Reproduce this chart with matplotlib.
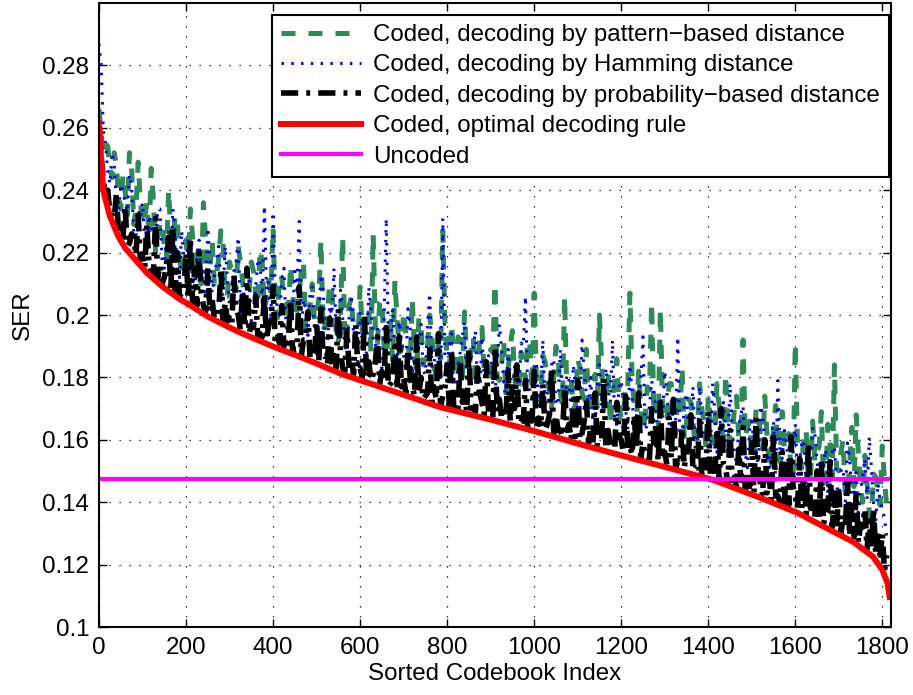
import numpy as np
import matplotlib
matplotlib.use("Agg")
import matplotlib.pyplot as plt

plt.rcParams['font.family'] = ['Liberation Sans', 'DejaVu Sans']

# sorted codebook index of the noisy curves (every 5th codebook)
idx = np.arange(0, 1815, 5)

# SER x 1000
# "_a" lists: index 0, 10, 20, ...   "_b" lists: index 5, 15, 25, ...
pattern_ser_a = [266, 252, 254, 244, 248, 234, 240, 252, 229, 249,
                 229, 236, 247, 220, 229, 222, 240, 223, 230, 213,
                 224, 234, 214, 223, 236, 210, 224, 213, 227, 206,
                 217, 209, 222, 211, 202, 217, 207, 221, 202, 211,
                 228, 199, 212, 204, 216, 199, 207, 217, 196, 210,
                 200, 224, 197, 210, 200, 191, 225, 197, 206, 191,
                 209, 198, 202, 226, 191, 205, 187, 198, 211, 188,
                 201, 191, 205, 182, 197, 187, 200, 183, 192, 227,
                 186, 197, 180, 192, 201, 182, 193, 177, 196, 185,
                 189, 210, 179, 192, 182, 195, 175, 188, 179, 191,
                 207, 175, 187, 180, 170, 190, 175, 206, 180, 170,
                 186, 175, 189, 168, 181, 200, 170, 182, 174, 186,
                 167, 177, 207, 171, 182, 163, 177, 204, 171, 202,
                 166, 178, 162, 175, 183, 165, 172, 158, 178, 166,
                 174, 159, 178, 166, 181, 159, 170, 161, 192, 164,
                 155, 170, 161, 174, 151, 164, 155, 169, 159, 151,
                 191, 154, 163, 147, 166, 156, 169, 147, 159, 184,
                 150, 160, 143, 164, 168, 145, 155, 137, 149, 143,
                 158, 139]
pattern_ser_b = [258, 255, 247, 252, 238, 245, 232, 247, 234, 237,
                 231, 225, 237, 225, 230, 218, 226, 232, 218, 222,
                 215, 225, 217, 210, 224, 215, 210, 218, 224, 206,
                 214, 208, 217, 203, 208, 214, 203, 217, 205, 207,
                 202, 213, 205, 198, 207, 201, 214, 195, 203, 198,
                 205, 195, 200, 207, 195, 200, 191, 203, 195, 191,
                 195, 200, 188, 196, 204, 190, 193, 185, 199, 189,
                 194, 185, 188, 199, 184, 190, 193, 181, 186, 198,
                 183, 188, 193, 179, 185, 189, 180, 194, 182, 178,
                 188, 180, 184, 174, 190, 180, 176, 184, 192, 176,
                 180, 172, 185, 175, 180, 187, 171, 175, 180, 171,
                 183, 173, 169, 177, 170, 185, 173, 165, 178, 171,
                 167, 176, 180, 164, 171, 167, 176, 168, 163, 171,
                 166, 178, 162, 170, 160, 173, 166, 162, 170, 157,
                 166, 161, 171, 157, 166, 161, 174, 156, 161, 166,
                 155, 168, 157, 162, 150, 171, 153, 157, 162, 148,
                 159, 151, 163, 147, 153, 158, 146, 165, 148, 151,
                 156, 142, 152, 145, 156, 140, 146, 135, 148, 139,
                 147]

hamming_ser_a = [287, 259, 246, 252, 236, 242, 236, 245, 226, 234,
                 236, 221, 228, 222, 234, 215, 227, 234, 215, 227,
                 214, 220, 208, 224, 214, 228, 207, 217, 209, 222,
                 203, 214, 225, 205, 215, 198, 209, 218, 235, 211,
                 233, 202, 211, 196, 205, 214, 230, 205, 192, 209,
                 199, 213, 193, 203, 215, 193, 199, 188, 205, 195,
                 201, 187, 209, 191, 196, 183, 231, 192, 186, 198,
                 187, 202, 181, 191, 197, 181, 207, 185, 192, 231,
                 183, 194, 177, 188, 198, 179, 190, 174, 193, 182,
                 187, 175, 197, 178, 189, 172, 182, 191, 206, 176,
                 184, 171, 192, 176, 184, 171, 189, 166, 179, 184,
                 170, 192, 174, 180, 165, 184, 170, 176, 192, 165,
                 179, 170, 184, 161, 175, 193, 165, 179, 170, 161,
                 182, 165, 173, 193, 160, 175, 166, 156, 177, 161,
                 169, 178, 156, 170, 162, 178, 156, 164, 171, 151,
                 166, 156, 171, 159, 151, 166, 179, 154, 159, 147,
                 165, 153, 160, 147, 164, 153, 141, 157, 147, 158,
                 141, 151, 159, 142, 151, 144, 154, 161, 139, 146,
                 138, 129]
hamming_ser_b = [280, 255, 242, 248, 233, 240, 233, 241, 225, 231,
                 223, 232, 225, 234, 217, 224, 218, 226, 212, 218,
                 225, 211, 219, 213, 206, 218, 212, 222, 206, 212,
                 206, 217, 201, 209, 212, 202, 217, 203, 208, 198,
                 208, 200, 215, 195, 201, 208, 195, 202, 208, 195,
                 199, 208, 191, 200, 194, 208, 190, 200, 194, 185,
                 198, 188, 201, 190, 185, 198, 192, 202, 186, 192,
                 182, 196, 187, 191, 182, 197, 183, 190, 177, 186,
                 191, 178, 184, 193, 179, 186, 195, 175, 180, 187,
                 178, 183, 189, 173, 180, 184, 174, 190, 177, 172,
                 185, 175, 169, 180, 186, 172, 176, 181, 168, 177,
                 169, 182, 172, 165, 177, 169, 183, 172, 165, 177,
                 172, 163, 175, 167, 179, 163, 171, 175, 159, 167,
                 175, 162, 166, 159, 171, 163, 177, 157, 167, 160,
                 156, 169, 161, 172, 156, 163, 152, 168, 156, 163,
                 158, 152, 168, 154, 161, 147, 156, 163, 149, 156,
                 149, 159, 144, 153, 162, 147, 152, 142, 156, 146,
                 150, 140, 154, 142, 135, 148, 141, 151, 134, 140,
                 135]

prob_ser_a = [262, 243, 240, 232, 239, 228, 235, 223, 225, 232,
              219, 229, 214, 231, 216, 212, 225, 228, 220, 207,
              220, 225, 215, 220, 203, 215, 205, 200, 215, 204,
              199, 213, 200, 208, 215, 197, 206, 194, 207, 197,
              209, 193, 203, 193, 205, 189, 209, 192, 201, 189,
              198, 202, 187, 199, 187, 202, 183, 195, 186, 197,
              183, 200, 185, 181, 193, 182, 196, 178, 190, 193,
              180, 189, 177, 193, 180, 174, 189, 177, 194, 174,
              184, 189, 172, 185, 175, 189, 170, 183, 172, 185,
              171, 190, 173, 169, 182, 178, 184, 166, 179, 169,
              182, 167, 178, 165, 183, 168, 163, 177, 165, 173,
              179, 162, 173, 164, 175, 159, 180, 163, 160, 172,
              160, 174, 158, 168, 175, 159, 155, 170, 165, 172,
              156, 167, 173, 153, 164, 156, 168, 151, 166, 155,
              169, 151, 162, 170, 151, 163, 148, 157, 164, 149,
              159, 167, 146, 160, 148, 162, 142, 156, 152, 161,
              142, 154, 149, 159, 140, 150, 153, 136, 153, 143,
              144, 135, 147, 139, 143, 133, 138, 134, 138, 130,
              130, 123]
prob_ser_b = [251, 239, 233, 231, 226, 225, 222, 226, 219, 218,
              215, 216, 213, 212, 210, 216, 208, 208, 206, 207,
              205, 204, 203, 207, 201, 201, 199, 200, 198, 198,
              197, 202, 195, 196, 194, 196, 193, 193, 192, 198,
              191, 191, 190, 191, 188, 189, 187, 192, 186, 187,
              185, 187, 184, 184, 183, 188, 182, 182, 181, 182,
              180, 180, 179, 185, 178, 179, 177, 179, 176, 177,
              175, 180, 174, 175, 173, 175, 172, 173, 171, 177,
              171, 171, 170, 172, 169, 170, 169, 175, 168, 169,
              167, 169, 167, 167, 166, 170, 165, 166, 164, 166,
              164, 164, 163, 168, 162, 163, 161, 163, 160, 161,
              160, 166, 159, 159, 158, 160, 157, 158, 157, 161,
              156, 157, 155, 157, 154, 155, 154, 159, 153, 154,
              152, 154, 151, 152, 151, 157, 150, 151, 149, 151,
              148, 149, 147, 152, 146, 147, 145, 147, 144, 145,
              143, 149, 142, 143, 141, 142, 140, 140, 139, 145,
              138, 138, 136, 138, 135, 135, 133, 138, 132, 132,
              130, 132, 129, 129, 127, 132, 125, 125, 123, 123,
              118]

# optimal decoding rule (smooth, sorted)
opt_idx = [0, 3, 6, 10, 15, 25, 44, 60, 83, 110, 144, 181, 213, 250, 297,
           324, 400, 478, 561, 669, 783, 899, 1000, 1120, 1200, 1330, 1410,
           1520, 1605, 1680, 1733, 1779, 1800, 1812, 1817]
opt_ser = [0.2615, 0.2550, 0.2467, 0.2400, 0.2370, 0.2317, 0.2253, 0.2215,
           0.2178, 0.2135, 0.2093, 0.2055, 0.2028, 0.1995, 0.1962, 0.1944,
           0.1899, 0.1857, 0.1809, 0.1759, 0.1705, 0.1665, 0.1628, 0.1580,
           0.1550, 0.1502, 0.1472, 0.1414, 0.1366, 0.1311, 0.1273, 0.1225,
           0.1183, 0.1141, 0.1096]

uncoded_ser = 0.1474

yticks = [0.1, 0.12, 0.14, 0.16, 0.18, 0.2, 0.22, 0.24, 0.26, 0.28]
ytick_labels = ['0.1', '0.12', '0.14', '0.16', '0.18', '0.2', '0.22', '0.24', '0.26', '0.28']
xticks = [0, 200, 400, 600, 800, 1000, 1200, 1400, 1600, 1800]


def merge(a, b):
    s = np.empty(len(a) + len(b))
    s[0::2] = a
    s[1::2] = b
    return s / 1000


pattern_ser = merge(pattern_ser_a, pattern_ser_b)
hamming_ser = merge(hamming_ser_a, hamming_ser_b)
prob_ser = merge(prob_ser_a, prob_ser_b)

fig = plt.figure(figsize=(9.13, 6.95), dpi=100)
ax = fig.add_axes([99 / 913, 1 - 627 / 695, (891 - 99) / 913, (627 - 3) / 695])

ax.plot(idx, pattern_ser, color='#2E8B57', lw=3.6, dashes=(2.8, 2.6),
        label='Coded, decoding by pattern\u2212based distance')
ax.plot(idx, hamming_ser, color='#0000FF', lw=2.2, dashes=(0.8, 2.4),
        label='Coded, decoding by Hamming distance')
ax.plot(idx, prob_ser, color='black', lw=4.0, dashes=(3.1, 1.45, 0.7, 1.45),
        label='Coded, decoding by probability\u2212based distance')
ax.plot(opt_idx, opt_ser, color='#FF0000', lw=4.3, label='Coded, optimal decoding rule')
ax.axhline(uncoded_ser, color='#FF00FF', lw=3.0, label='Uncoded')

ax.set_xlim(0, 1820)
ax.set_ylim(0.1, 0.3)
ax.set_xticks(xticks)
ax.set_yticks(yticks)
ax.set_yticklabels(ytick_labels)
ax.tick_params(direction='in', top=True, right=True, length=6, width=1,
               labelsize=17.4, pad=7)
ax.grid(True, color='black', lw=0.9, linestyle=(0, (1, 7)))
for s in ax.spines.values():
    s.set_linewidth(1.5)

ax.set_xlabel('Sorted Codebook Index', fontsize=17.4, labelpad=3)
ax.set_ylabel('SER', fontsize=17.4, labelpad=6)

leg = ax.legend(loc='upper right', bbox_to_anchor=(0.9975, 0.981), borderaxespad=0,
                fontsize=17.4, handlelength=3.3, handletextpad=0.5,
                labelspacing=0.35, borderpad=0.38, fancybox=False, framealpha=1)
leg.get_frame().set_edgecolor('black')
leg.get_frame().set_linewidth(1.5)

fig.savefig('out.png', dpi=100)
